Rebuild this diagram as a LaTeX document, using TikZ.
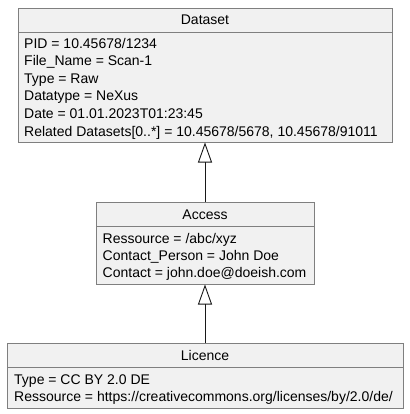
\documentclass[tikz,border=0pt]{standalone}
\usepackage{fontspec}
\setmainfont{Liberation Sans}
\usetikzlibrary{arrows.meta}
\definecolor{boxfill}{HTML}{F1F1F1}
\definecolor{boxline}{HTML}{7F7F7F}
\definecolor{arrowcol}{HTML}{181818}
\tikzset{
  box/.style={draw=boxline, fill=boxfill, line width=0.9pt, inner sep=0pt, outer sep=0pt, anchor=north west},
  classtitle/.style={font=\fontsize{14}{16}\selectfont, anchor=base, inner sep=0pt},
  attr/.style={font=\fontsize{14}{16}\selectfont, anchor=base west, inner sep=0pt},
  inherit/.style={draw=arrowcol, line width=0.9pt, -{Triangle[open, length=20pt, width=14pt, line width=0.9pt]}}
}
\begin{document}
\begin{tikzpicture}[x=1pt,y=-1pt]
\useasboundingbox (0,0) rectangle (409,414);
% Dataset
\node[box, minimum width=374pt, minimum height=24pt] (dsh) at (18,8) {};
\node[box, minimum width=374pt, minimum height=110.5pt] (dsb) at (dsh.south west) {};
\node[classtitle] (dst) at (205,25) {Dataset};
\node[attr] (d1) at (24,48.5) {PID = 10.45678/1234};
\node[attr] (d2) at (24,66) {File\_Name = Scan-1};
\node[attr] (d3) at (24,83.5) {Type = Raw};
\node[attr] (d4) at (24,101) {Datatype = NeXus};
\node[attr] (d5) at (24,118.5) {Date = 01.01.2023T01:23:45};
\node[attr] (d6) at (24,136) {Related Datasets[0..*] = 10.45678/5678, 10.45678/91011};
% Access
\node[box, minimum width=218pt, minimum height=24pt] (ach) at (96,202) {};
\node[box, minimum width=218pt, minimum height=58.5pt] (acb) at (ach.south west) {};
\node[classtitle] (act) at (205,219) {Access};
\node[attr] (a1) at (102.5,243) {Ressource = /abc/xyz};
\node[attr] (a2) at (102.5,260) {Contact\_Person = John Doe};
\node[attr] (a3) at (102.5,277) {Contact = john.doe@doeish.com};
% Licence
\node[box, minimum width=396pt, minimum height=24pt] (lih) at (7,343) {};
\node[box, minimum width=396pt, minimum height=41pt] (lib) at (lih.south west) {};
\node[classtitle] (lit) at (205,360) {Licence};
\node[attr] (l1) at (14,384) {Type = CC BY 2.0 DE};
\node[attr] (l2) at (14,401.5) {Ressource = https://creativecommons.org/licenses/by/2.0/de/};
% Inheritance
\draw[inherit] (ach.north) -- (dsb.south);
\draw[inherit] (lih.north) -- (acb.south);
\end{tikzpicture}
\end{document}
